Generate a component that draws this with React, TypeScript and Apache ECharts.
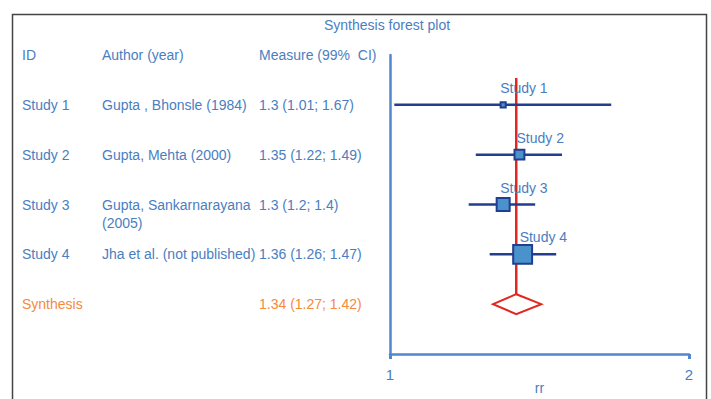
import { useEffect, useRef } from "react";
import * as echarts from "echarts";

// Study table
const studyIds = ["Study 1", "Study 2", "Study 3", "Study 4"];
const authors = [
  "Gupta , Bhonsle (1984)",
  "Gupta, Mehta (2000)",
  "Gupta, Sankarnarayana\n(2005)",
  "Jha et al. (not published)",
];
const measures = [1.3, 1.35, 1.3, 1.36];
const lowerCI = [1.01, 1.22, 1.2, 1.26];
const upperCI = [1.67, 1.49, 1.4, 1.47];
// relative weights (%) used to size the study boxes
const weights = [4, 15, 26, 55];

// Pooled estimate
const synthesisLabel = "Synthesis";
const synthesisMeasure = 1.34;
const synthesisLower = 1.27;
const synthesisUpper = 1.42;

const headers = ["ID", "Author (year)", "Measure (99%  CI)"];
const xMin = 1;
const xMax = 2;

const BLUE = "#4a7ebf";
const AXIS = "#5087cf";
const NAVY = "#233d8f";
const BOX = "#4a92cb";
const RED = "#e3261f";
const ORANGE = "#f58a3c";
const FONT = '"Liberation Sans", Arial, sans-serif';

const W = 711;
const H = 399;

const fmt = (m: number, lo: number, hi: number) => `${m} (${lo}; ${hi})`;

export default function App() {
  const ref = useRef<HTMLDivElement>(null);

  useEffect(() => {
    if (!ref.current) return;
    const chart = echarts.init(ref.current, undefined, { renderer: "svg", width: W, height: H });

    const studyData = studyIds.map((id, i) => [
      measures[i],
      i + 1,
      lowerCI[i],
      upperCI[i],
      weights[i],
    ]);

    // table rows: header (row 0), studies (1..4), synthesis (5)
    const tableRows: { cells: string[]; color: string }[] = [
      { cells: headers, color: BLUE },
      ...studyIds.map((id, i) => ({
        cells: [id, authors[i], fmt(measures[i], lowerCI[i], upperCI[i])],
        color: BLUE,
      })),
      {
        cells: [synthesisLabel, "", fmt(synthesisMeasure, synthesisLower, synthesisUpper)],
        color: ORANGE,
      },
    ];
    const colX = [22, 102, 259];

    chart.setOption({
      animation: false,
      title: {
        text: "Synthesis forest plot",
        left: 324,
        top: 18,
        padding: 0,
        textStyle: { fontSize: 14, fontWeight: "normal", color: BLUE, fontFamily: FONT },
      },
      grid: { left: 390, right: 22, top: 55, bottom: 45, outerBoundsMode: "none", containLabel: false },
      xAxis: {
        type: "log",
        logBase: 2,
        min: xMin,
        max: xMax,
        name: "rr",
        nameLocation: "middle",
        nameGap: 27,
        nameMoveOverlap: false,
        nameTextStyle: { color: BLUE, fontSize: 14, fontFamily: FONT },
        axisLine: { show: true, onZero: false, lineStyle: { color: AXIS, width: 2.5 } },
        axisTick: { show: true, length: 5, lineStyle: { color: AXIS, width: 3 } },
        axisLabel: { color: BLUE, fontSize: 15, fontFamily: FONT, margin: 13 },
        splitLine: { show: false },
      },
      yAxis: {
        type: "value",
        inverse: true,
        min: 0,
        max: 6,
        axisLine: { show: true, onZero: false, lineStyle: { color: AXIS, width: 2.5 } },
        axisTick: { show: false },
        axisLabel: { show: false },
        splitLine: { show: false },
      },
      graphic: [
        {
          type: "rect",
          shape: { x: 12.5, y: 14.5, width: 694, height: 420 },
          style: { fill: "none", stroke: "#444444", lineWidth: 1.5 },
          silent: true,
        },
      ],
      series: [
        // left-hand table
        {
          type: "custom",
          clip: false,
          data: tableRows.map((_, r) => [1, r]),
          renderItem: (params: any, api: any) => {
            const r = api.value(1);
            const y = api.coord([1, r])[1];
            const row = tableRows[params.dataIndex];
            return {
              type: "group",
              children: row.cells
                .map((t, c) => ({
                  type: "text",
                  x: colX[c],
                  y: y - 9,
                  style: {
                    text: t,
                    fill: row.color,
                    fontSize: 14,
                    fontFamily: FONT,
                    align: "left",
                    verticalAlign: "top",
                    lineHeight: 18,
                  },
                }))
                .filter((e) => e.style.text !== ""),
            };
          },
        },
        // pooled estimate reference line
        {
          type: "line",
          data: [
            [synthesisMeasure, 0.46],
            [synthesisMeasure, 4.8],
          ],
          symbol: "none",
          lineStyle: { color: RED, width: 2.5 },
          z: 3,
        },
        // pooled estimate diamond
        {
          type: "custom",
          clip: false,
          z: 4,
          data: [[synthesisMeasure, 5, synthesisLower, synthesisUpper]],
          renderItem: (params: any, api: any) => {
            const y = api.value(1);
            const l = api.coord([api.value(2), y]);
            const h = api.coord([api.value(3), y]);
            const top = api.coord([api.value(0), y - 0.2]);
            const bot = api.coord([api.value(0), y + 0.2]);
            return {
              type: "polygon",
              shape: {
                points: [
                  [l[0], l[1]],
                  [top[0], top[1]],
                  [h[0], h[1]],
                  [bot[0], bot[1]],
                ],
              },
              style: { fill: "#ffffff", stroke: RED, lineWidth: 2 },
            };
          },
        },
        // individual studies: CI whiskers, weighted boxes and names
        {
          type: "custom",
          clip: false,
          z: 5,
          data: studyData,
          renderItem: (params: any, api: any) => {
            const y = api.value(1);
            const p = api.coord([api.value(0), y]);
            const l = api.coord([api.value(2), y]);
            const h = api.coord([api.value(3), y]);
            const s = 2.55 * Math.sqrt(api.value(4));
            return {
              type: "group",
              children: [
                {
                  type: "line",
                  shape: { x1: l[0], y1: l[1], x2: h[0], y2: h[1] },
                  style: { stroke: NAVY, lineWidth: 2.5 },
                },
                {
                  type: "rect",
                  shape: { x: p[0] - s / 2, y: p[1] - s / 2, width: s, height: s },
                  style: { fill: BOX, stroke: NAVY, lineWidth: 2 },
                },
                {
                  type: "text",
                  x: p[0] - 3,
                  y: p[1] - 17,
                  style: {
                    text: studyIds[params.dataIndex],
                    fill: BLUE,
                    fontSize: 14,
                    fontFamily: FONT,
                    align: "left",
                    verticalAlign: "middle",
                  },
                },
              ],
            };
          },
        },
      ],
    });

    return () => chart.dispose();
  }, []);

  return (
    <div
      ref={ref}
      style={{ position: "absolute", left: 0, top: 0, width: W, height: H, background: "#ffffff" }}
    />
  );
}
